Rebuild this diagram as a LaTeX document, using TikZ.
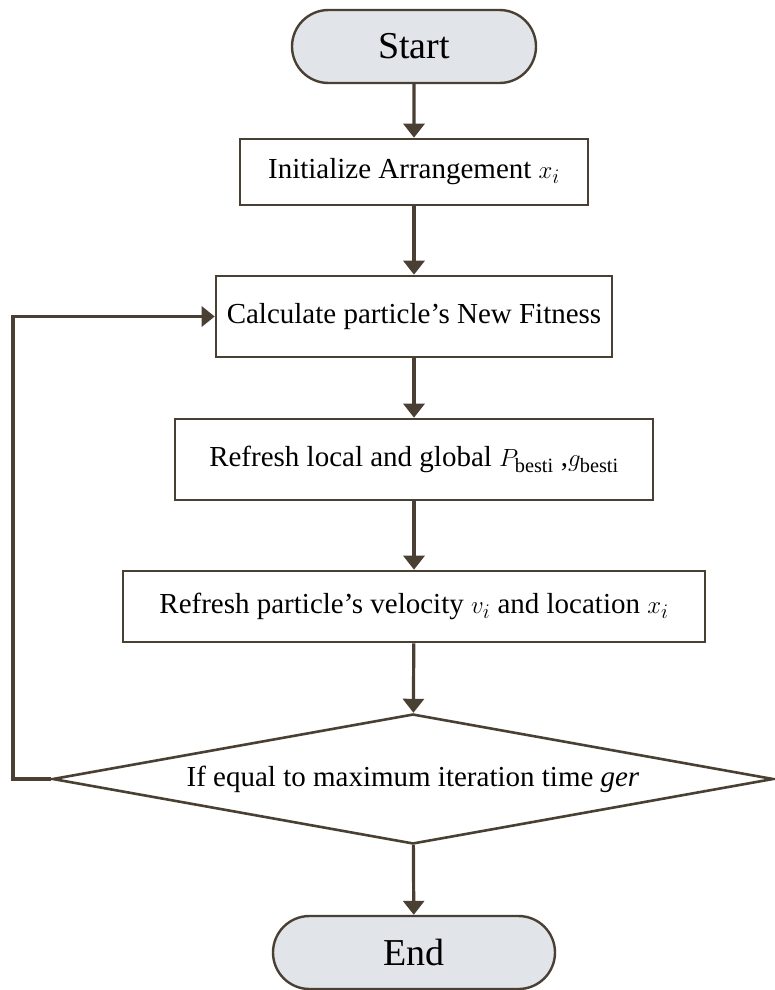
\documentclass[tikz,border=0pt]{standalone}
\usepackage{fontspec}
\setmainfont{Liberation Serif}
\usetikzlibrary{shapes.geometric,shapes.misc,arrows.meta}
\definecolor{linebrown}{HTML}{4A3F33}
\definecolor{termfill}{HTML}{E1E4E8}
\begin{document}
\begin{tikzpicture}[x=1pt,y=-1pt,
  flow/.style={draw=linebrown,line width=3.2pt,-{Triangle[length=14pt,width=21pt]}},
  loopline/.style={draw=linebrown,line width=3.8pt,-{Triangle[length=13pt,width=20pt]}},
  procbox/.style={draw=linebrown,line width=2.6pt,fill=white,rectangle,inner sep=0pt,font=\fontsize{29}{33}\selectfont},
  term/.style={draw=linebrown,line width=2.4pt,fill=termfill,rounded rectangle,inner sep=0pt,font=\fontsize{38}{41}\selectfont},
  decide/.style={draw=linebrown,line width=2.6pt,fill=white,diamond,aspect=5.5,inner sep=0pt,font=\fontsize{29}{33}\selectfont}]
\useasboundingbox (0,0) rectangle (774,990);
% terminals, process steps and the stopping test, top to bottom
\node[term,minimum width=244pt,minimum height=73pt] (start) at (414,46.5) {Start};
\node[procbox,minimum width=348pt,minimum height=66pt] (init) at (414,172) {Initialize Arrangement $x_i$};
\node[procbox,minimum width=396pt,minimum height=81pt] (calc) at (414,316.5) {Calculate particle's New Fitness};
\node[procbox,minimum width=478pt,minimum height=81pt] (best) at (414,459.5) {Refresh local and global $P_{\mathrm{besti}}$ ,$g_{\mathrm{besti}}$};
\node[procbox,minimum width=582pt,minimum height=71pt] (move) at (414,606.5) {Refresh particle's velocity $v_i$ and location $x_i$};
\node[decide,minimum width=721pt,minimum height=130pt] (check) at (413,779) {If equal to maximum iteration time \textit{ger}};
\node[term,minimum width=282pt,minimum height=73pt] (end) at (414,952.5) {End};
% loop back to the fitness step
\coordinate (loop) at (13,779);
\coordinate (loopup) at (13,316.5);
\draw[flow] (start) -- (init);
\draw[flow] (init) -- (calc);
\draw[flow] (calc) -- (best);
\draw[flow] (best) -- (move);
\draw[flow] (move) -- (check);
\draw[flow] (check) -- (end);
\draw[loopline] (check.west) -- (loop) -- (loopup) -- (calc.west |- loopup);
\end{tikzpicture}
\end{document}
